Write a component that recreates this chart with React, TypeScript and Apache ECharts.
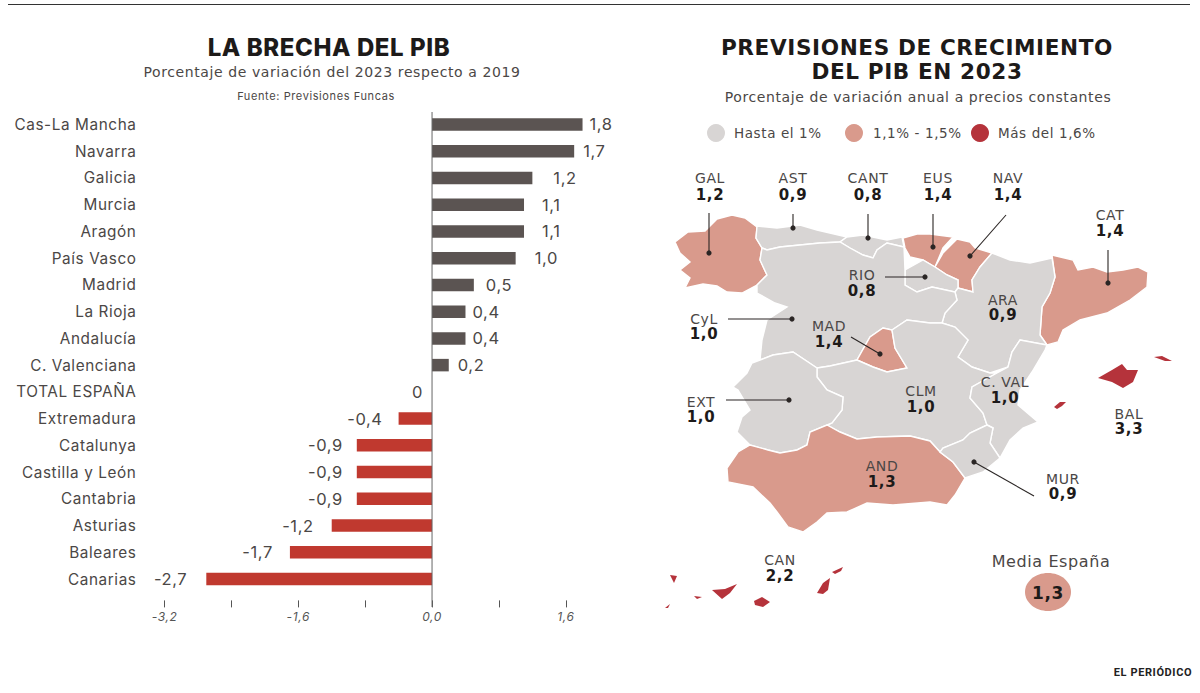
import React, { useEffect, useRef } from "react";
import * as echarts from "echarts";

const categories = ["Cas-La Mancha","Navarra","Galicia","Murcia","Aragón","País Vasco","Madrid","La Rioja","Andalucía","C. Valenciana","TOTAL ESPAÑA","Extremadura","Catalunya","Castilla y León","Cantabria","Asturias","Baleares","Canarias"];
const gapValues = [1.8,1.7,1.2,1.1,1.1,1.0,0.5,0.4,0.4,0.2,0,-0.4,-0.9,-0.9,-0.9,-1.2,-1.7,-2.7];
const tickValues = [-3.2,-2.4,-1.6,-0.8,0,0.8,1.6];
const tickLabels = [-3.2,-1.6,0,1.6];

const regionCodes = ["GAL","AST","CANT","EUS","NAV","CAT","RIO","ARA","CyL","MAD","CLM","C. VAL","EXT","AND","MUR","BAL","CAN"];
const growthValues = [1.2,0.9,0.8,1.4,1.4,1.4,0.8,0.9,1.0,1.4,1.0,1.0,1.0,1.3,0.9,3.3,2.2];
const spainAverage = 1.3;
const legendLabels = ["Hasta el 1%","1,1% - 1,5%","Más del 1,6%"];

const SANS = "Inter";
const WIDE = "DejaVu Sans";
const INK = "#4b4746";
const GREY = "#d8d5d4";
const PINK = "#d99a8c";
const RED = "#b5333b";
const fmt = (v: number) => (v === 0 ? "0" : v.toFixed(1).replace(".", ","));
const shade = (v: number) => (v <= 1 ? GREY : v <= 1.5 ? PINK : RED);

// label gap next to each bar
const labelGaps = [7,9,21,18,18,19,12,7,7,9,9,16,14,14,14,18,17,19];

// region outlines, page pixel outline of the drawing
const outlines: Record<string, number[][][]> = {
  GAL: [[[675,242],[688,232],[705,231],[717,219],[732,215],[745,218],[757,227],[756,238],[762,248],[760,260],[767,275],[757,285],[742,293],[727,292],[717,286],[703,284],[685,288],[690,278],[680,270],[690,262],[680,253]]],
  AST: [[[757,226],[777,228],[800,225],[817,230],[847,237],[840,242],[820,243],[800,245],[780,247],[767,250],[762,248],[756,238]]],
  CANT: [[[847,237],[863,235],[887,240],[902,237],[904,247],[887,243],[877,250],[873,258],[863,255],[850,248],[840,242]]],
  EUS: [[[903,238],[917,234],[930,234],[953,237],[943,248],[935,267],[923,260],[910,257],[905,248]]],
  NAV: [[[957,239],[970,242],[975,248],[992,253],[980,267],[972,280],[973,292],[958,288],[958,280],[947,275],[935,267],[943,253]]],
  CAT: [[[1052,255],[1073,260],[1078,270],[1093,267],[1107,272],[1123,270],[1138,267],[1148,272],[1147,287],[1130,300],[1107,313],[1080,320],[1063,330],[1058,342],[1047,345],[1040,335],[1042,307],[1050,293],[1055,277]]],
  RIO: [[[905,270],[923,260],[935,267],[947,275],[958,280],[958,288],[955,292],[932,287],[917,292],[905,285]]],
  ARA: [[[992,253],[1010,260],[1030,263],[1052,258],[1055,277],[1050,293],[1042,307],[1040,335],[1047,345],[1020,340],[1012,352],[1008,367],[990,373],[972,367],[958,357],[968,340],[955,327],[942,323],[945,313],[957,300],[955,292],[958,288],[973,292],[972,280],[980,267]]],
  CyL: [[[762,248],[767,250],[780,247],[800,245],[820,243],[840,242],[850,248],[863,255],[873,258],[877,250],[887,243],[904,247],[905,270],[905,285],[917,292],[932,287],[955,292],[957,300],[945,313],[942,323],[930,323],[907,320],[892,330],[883,328],[870,337],[857,360],[830,366],[817,368],[793,352],[773,355],[760,360],[762,340],[767,320],[787,307],[775,303],[757,293],[757,285],[767,275],[760,260]]],
  MAD: [[[883,328],[892,330],[895,348],[907,368],[887,372],[873,367],[857,360],[870,337]]],
  CLM: [[[817,368],[830,366],[857,360],[873,367],[887,372],[907,368],[895,348],[892,330],[907,320],[930,323],[942,323],[955,327],[968,340],[958,357],[972,367],[990,373],[997,373],[972,387],[970,398],[983,413],[987,425],[970,433],[963,440],[943,448],[940,452],[930,441],[910,436],[877,437],[857,439],[840,432],[827,425],[832,423],[842,410],[843,397],[827,390],[817,377]]],
  "C. VAL": [[[1020,340],[1047,345],[1045,350],[1032,372],[1020,390],[1018,405],[1038,422],[1023,428],[1010,440],[1000,458],[990,443],[993,428],[987,425],[983,413],[970,398],[972,387],[997,373],[1008,367],[1012,352]]],
  EXT: [[[760,360],[773,355],[793,352],[817,368],[817,377],[827,390],[843,397],[842,410],[832,423],[810,432],[807,445],[797,450],[780,453],[768,450],[750,445],[737,432],[742,417],[750,410],[738,390],[733,387],[747,373],[752,363]]],
  AND: [[[738,452],[750,445],[768,450],[780,453],[797,450],[807,445],[810,432],[827,425],[840,432],[857,439],[877,437],[910,436],[930,441],[940,452],[953,462],[965,478],[955,495],[947,505],[930,502],[893,505],[867,503],[847,512],[827,513],[817,522],[803,532],[788,527],[777,512],[770,503],[753,487],[728,482],[727,468]]],
  MUR: [[[987,425],[993,428],[990,443],[1000,458],[983,472],[965,478],[953,462],[940,452],[943,448],[963,440],[970,433]]],
  BAL: [[[1098,378],[1112,370],[1122,364],[1127,370],[1138,370],[1133,382],[1123,388],[1112,382]],[[1154,357],[1162,356],[1172,361],[1165,361]],[[1054,407],[1060,402],[1066,402],[1062,406],[1057,409]]],
  CAN: [[[670,575],[677,576],[674,583]],[[694,596],[702,597],[697,599]],[[712,590],[725,589],[737,584],[730,593],[722,599]],[[754,601],[762,597],[770,602],[763,607],[755,605]],[[817,593],[823,583],[830,578],[828,590],[823,594]],[[832,572],[843,567],[841,571],[835,574]],[[665,608],[670,604],[668,608]]],
};

// [code, name x, name y, value y]
const labelSpots: [string, number, number, number][] = [
  ["GAL",710,178,195],["AST",793,178,195],["CANT",868,178,195],["EUS",938,178,195],["NAV",1008,178,195],
  ["CAT",1110,215,231],["RIO",862,275,291],["ARA",1003,300,315],["CyL",704,319,334],["MAD",829,326,342],
  ["CLM",921,391,407],["C. VAL",1005,382,398],["EXT",701,402,417],["AND",882,466,482],["MUR",1063,479,494],
  ["BAL",1129,414,429],["CAN",780,560,576],
];
// leader: from, to (dot at "to")
const leaders = [
  [709,213,709,253],[793,214,793,228],[868,214,868,238],[933,214,933,247],[1006,215,970,256],
  [1108,250,1108,283],[885,277,925,277],[728,319,792,319],[851,337,880,354],[726,400,789,400],[1034,496,974,462],
];

function buildGeo() {
  return {
    type: "FeatureCollection",
    features: regionCodes.map((code) => {
      const polys = outlines[code];
      return {
        type: "Feature",
        properties: { name: code },
        geometry: { type: "MultiPolygon", coordinates: polys.map((ring) => [ring.concat([ring[0]])]) },
      };
    }),
  };
}

const text = (t: string, x: number, y: number, size: number, opts: any = {}) => ({
  type: "text", z: 20, silent: true,
  style: { text: t, x, y, fontSize: size, fontFamily: opts.family || SANS, fontWeight: opts.weight || 400, fontStyle: opts.italic ? "italic" : "normal", fill: opts.fill || INK, align: opts.align || "center", verticalAlign: "middle" },
});

export default function App() {
  const ref = useRef<HTMLDivElement>(null);
  useEffect(() => {
    const chart = echarts.init(ref.current!, undefined, { renderer: "svg" });
    const geo = buildGeo();
    echarts.registerMap("spain", geo as any);
    const all = Object.values(outlines).flat(2);
    const xs = all.map((p) => p[0]);
    const ys = all.map((p) => p[1]);
    const minX = Math.min(...xs), maxX = Math.max(...xs), minY = Math.min(...ys), maxY = Math.max(...ys);

    chart.setOption({
      animation: false,
      backgroundColor: "#ffffff",
      grid: { left: 164.5, width: 468.2, top: 111.1, height: 481.3, containLabel: false },
      xAxis: {
        type: "value", min: -3.2, max: 2.4, interval: 0.8, offset: 8,
        splitLine: { show: false }, axisLine: { show: false },
        axisTick: { show: true, length: 7, customValues: tickValues, lineStyle: { color: "#555", width: 1 } },
        axisLabel: { customValues: tickLabels, margin: 10, fontSize: 12, fontStyle: "italic", fontFamily: SANS, color: "#555", formatter: (v: number) => v.toFixed(1).replace(".", ",") },
      },
      yAxis: {
        type: "category", data: categories, inverse: true,
        axisLine: { show: false, onZero: false }, axisTick: { show: false },
        axisLabel: { margin: 28, fontSize: 15.3, fontFamily: SANS, color: INK, interval: 0 },
      },
      series: [
        {
          type: "bar", barWidth: 12.5, silent: true,
          data: gapValues.map((v, i) => ({
            value: v,
            itemStyle: { color: v > 0 ? "#5b5452" : "#c0392f" },
            label: { show: true, position: v > 0 ? "right" : "left", distance: labelGaps[i], formatter: fmt(v), fontSize: 16.5, fontFamily: SANS, color: INK },
          })),
        },
        {
          type: "map", map: "spain", silent: true,
          projection: { project: (p: number[]) => p, unproject: (p: number[]) => p },
          left: minX, top: minY, width: maxX - minX, height: maxY - minY,
          roam: false, selectedMode: false,
          label: { show: false },
          itemStyle: { borderColor: "#ffffff", borderWidth: 1.4 },
          data: regionCodes.map((c, i) => ({
            name: c, value: growthValues[i],
            itemStyle: { areaColor: shade(growthValues[i]), borderWidth: growthValues[i] > 1.5 ? 0 : 1.4 },
          })),
        },
      ],
    });

    const x0 = chart.convertToPixel({ xAxisIndex: 0 }, 0) as number;
    const BLACK = "#1d1a19";
    const els: any[] = [
      { type: "line", z: 15, shape: { x1: 8, y1: 4.5, x2: 1190, y2: 4.5 }, style: { stroke: "#333", lineWidth: 1.2 } },
      { type: "line", z: 15, shape: { x1: x0, y1: 112, x2: x0, y2: 607 }, style: { stroke: "#666", lineWidth: 1 } },
      text("LA BRECHA DEL PIB", 329, 47, 24, { weight: 800, fill: BLACK }),
      text("Porcentaje de variación del 2023 respecto a 2019", 332, 72, 14, { family: WIDE }),
      text("Fuente: Previsiones Funcas", 316, 96, 11),
      text("PREVISIONES DE CRECIMIENTO", 917, 47, 21.6, { family: WIDE, weight: 700, fill: BLACK }),
      text("DEL PIB EN 2023", 917, 71, 21.6, { family: WIDE, weight: 700, fill: BLACK }),
      text("Porcentaje de variación anual a precios constantes", 918, 97, 14, { family: WIDE }),
    ];
    [[716, GREY, 734], [854, PINK, 873], [980, RED, 998]].forEach(([cx, col, tx], i) => {
      els.push({ type: "circle", z: 15, shape: { cx, cy: 133, r: 9 }, style: { fill: col } });
      els.push(text(legendLabels[i], tx as number, 133, 13.5, { align: "left", family: WIDE }));
    });
    leaders.forEach(([a, b, c, d]) => {
      els.push({ type: "line", z: 16, shape: { x1: a, y1: b, x2: c, y2: d }, style: { stroke: "#2a2524", lineWidth: 1.1 } });
      els.push({ type: "circle", z: 16, shape: { cx: c, cy: d, r: 2.6 }, style: { fill: "#2a2524" } });
    });
    labelSpots.forEach(([code, x, y1, y2]) => {
      els.push(text(code, x, y1, 14, { family: WIDE }));
      els.push(text(fmt(growthValues[regionCodes.indexOf(code)]), x, y2, 15, { family: WIDE, weight: 700, fill: BLACK }));
    });
    els.push(text("Media España", 1051, 561, 16, { family: WIDE }));
    els.push({ type: "ellipse", z: 15, shape: { cx: 1048, cy: 592, rx: 23, ry: 19 }, style: { fill: PINK } });
    els.push(text(fmt(spainAverage), 1048, 593, 17, { family: WIDE, weight: 700, fill: BLACK }));
    els.push(text("EL PERIÓDICO", 1153, 672, 11, { family: "Roboto", weight: 700, fill: "#222" }));
    chart.setOption({ graphic: { elements: els } });

    return () => chart.dispose();
  }, []);
  return <div ref={ref} style={{ position: "absolute", left: 0, top: 0, width: 1200, height: 693, letterSpacing: "0.6px" }} />;
}
